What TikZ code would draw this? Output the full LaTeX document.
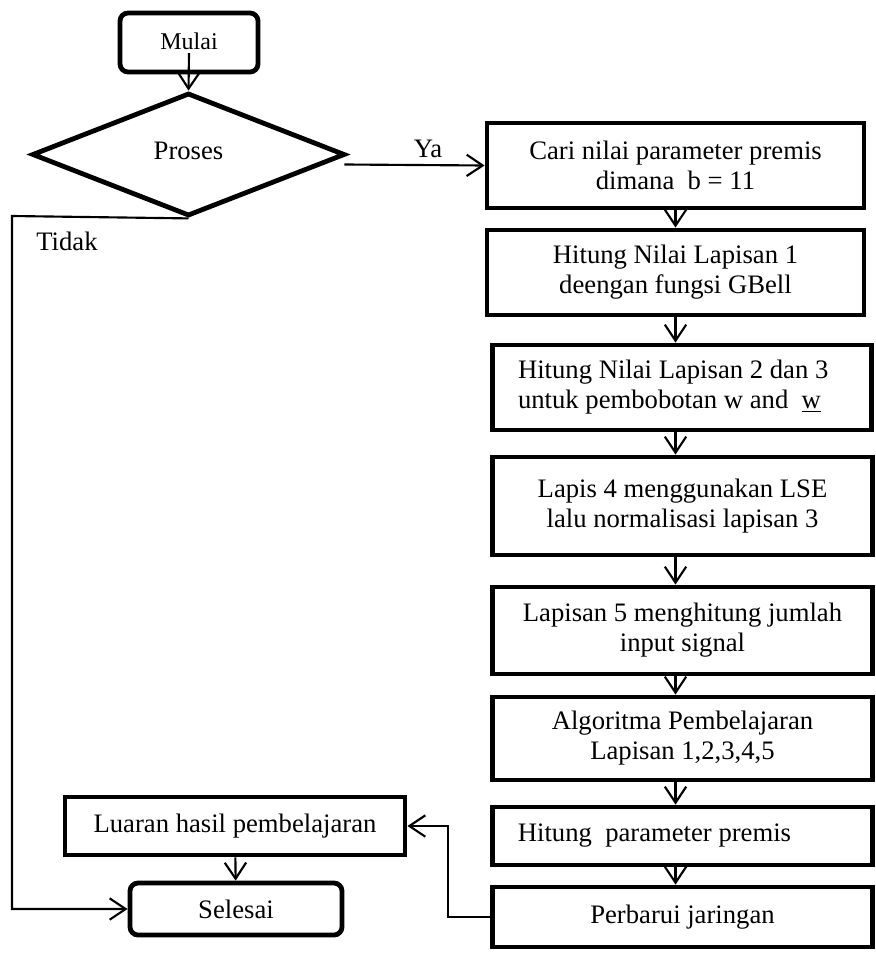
\documentclass[tikz,border=0pt]{standalone}
\usepackage{fontspec}
\setmainfont{Liberation Serif}
\usetikzlibrary{shapes.geometric,arrows.meta,calc}

\begin{document}
\begin{tikzpicture}[x=0.75pt,y=0.75pt,yscale=-1,xscale=1,
    teks/.style={font=\fontsize{20}{22.5}\selectfont},
    kotak/.style={teks,draw,line width=3.6pt,minimum width=284.5pt,align=center,inner sep=2pt},
    bulat/.style={kotak,rounded corners=6pt},
    panah/.style={line width=1.6pt,-{Straight Barb[length=12pt,width=16pt]}}]
    \useasboundingbox (0,0) rectangle (875,956);
    % mulai dan keputusan
    \node[bulat,minimum width=103.5pt,minimum height=44.25pt,font=\fontsize{18}{20}\selectfont] (mulai) at (189,42.5) {\raisebox{2pt}{Mulai}};
    \node[teks,draw,diamond,line width=3.6pt,minimum width=234.75pt,minimum height=92.25pt,inner sep=0pt] (proses) at (188.5,154.5) {\raisebox{5pt}{Proses}};
    \node[teks] (ya) at (428,149) {Ya};
    \node[teks] (tidak) at (67,241) {Tidak};
    % kolom kanan
    \node[kotak,minimum width=282.75pt,minimum height=63.75pt] (cari) at (675.5,165.5) {Cari nilai parameter premis\\dimana~ b = 11};
    \node[kotak,minimum width=282.75pt,minimum height=63.75pt] (lapis1) at (675.5,272.5) {Hitung Nilai Lapisan 1\\deengan fungsi GBell};
    \node[kotak,minimum height=63.75pt,text width=246pt,align=flush left,inner xsep=18.75pt] (lapis23) at (682,387.5) {Hitung Nilai Lapisan 2 dan 3\\untuk pembobotan w and~ \underline{w}};
    \node[kotak,minimum height=73.5pt] (lapis4) at (682.5,506) {Lapis 4 menggunakan LSE\\lalu normalisasi lapisan 3};
    \node[kotak,minimum height=65.25pt] (lapis5) at (682.5,630.5) {Lapisan 5 menghitung jumlah\\input signal};
    \node[kotak,minimum height=62.25pt] (algo) at (682.5,738.5) {Algoritma Pembelajaran\\Lapisan 1,2,3,4,5};
    \node[kotak,minimum height=43.5pt,text width=247pt,align=flush left,inner xsep=18.75pt] (hitung) at (682.5,836) {Hitung\ \ parameter premis};
    \node[kotak,minimum height=45pt] (perbarui) at (682.5,917) {Perbarui jaringan};
    % kolom kiri bawah
    \node[kotak,minimum width=255pt,minimum height=43.5pt] (luaran) at (235,826) {Luaran hasil pembelajaran};
    \node[bulat,minimum width=159pt,minimum height=39pt] (selesai) at (236,909) {Selesai};
    \coordinate (kiri) at (12,216);
    \coordinate (balik) at (448,917);
    % panah
    \draw[panah] ([yshift=8pt]mulai.center) -- (proses.north);
    \draw[panah] ($(proses.east)+(-3,10)$) -- (cari.west);
    \draw[panah] (proses.south) -- (kiri) |- (selesai.west);
    \draw[panah] (cari) -- (lapis1);
    \draw[panah] (lapis1) -- (lapis1 |- lapis23.north);
    \draw[panah] (lapis23.south -| cari) -- (lapis4.north -| cari);
    \draw[panah] (lapis4.south -| cari) -- (lapis5.north -| cari);
    \draw[panah] (lapis5.south -| cari) -- (algo.north -| cari);
    \draw[panah] (algo.south -| cari) -- (hitung.north -| cari);
    \draw[panah] (hitung.south -| cari) -- (perbarui.north -| cari);
    \draw[panah] (perbarui.west) -- (balik) |- (luaran.east);
    \draw[panah] (luaran) -- (selesai);
\end{tikzpicture}
\end{document}
